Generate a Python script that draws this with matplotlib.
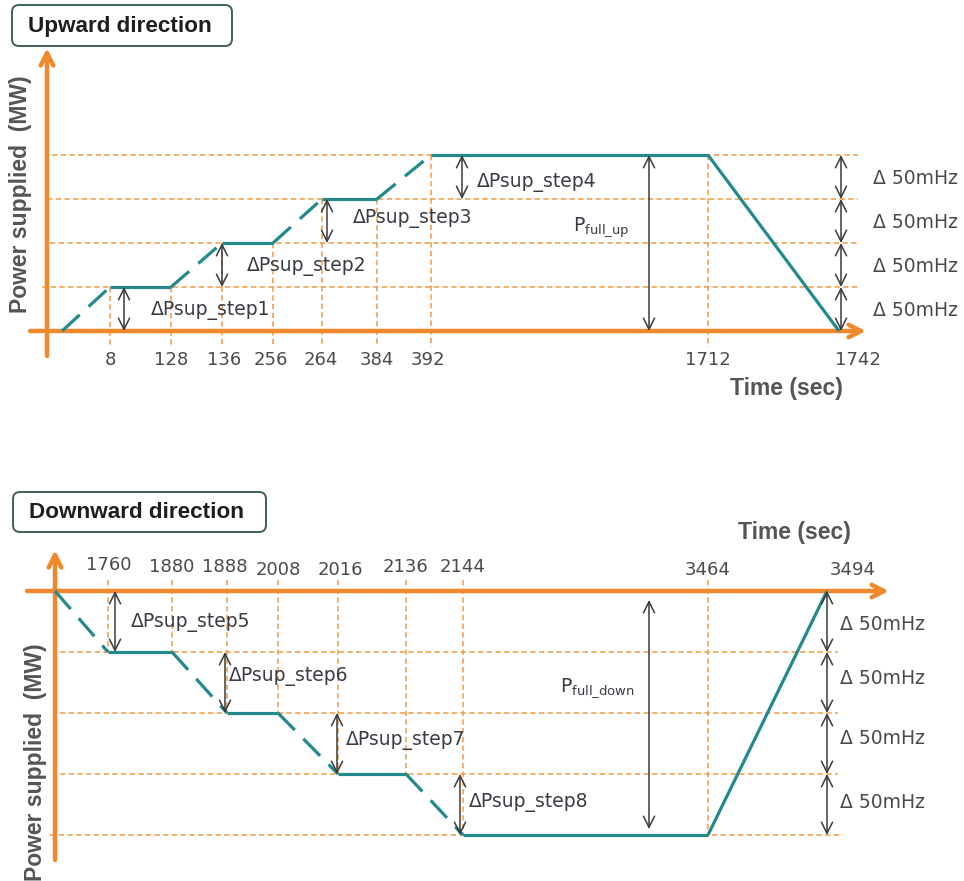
import matplotlib
matplotlib.use("Agg")
import matplotlib.pyplot as plt
from matplotlib.patches import FancyBboxPatch

# ---------------- data ----------------
up_times = [0, 8, 128, 136, 256, 264, 384, 392, 1712, 1742]
up_levels = [0, 1, 1, 2, 2, 3, 3, 4, 4, 0]
down_times = [1742, 1760, 1880, 1888, 2008, 2016, 2136, 2144, 3464, 3494]
down_levels = [0, 1, 1, 2, 2, 3, 3, 4, 4, 0]
up_step_labels = ["ΔPsup_step1", "ΔPsup_step2", "ΔPsup_step3", "ΔPsup_step4"]
down_step_labels = ["ΔPsup_step5", "ΔPsup_step6", "ΔPsup_step7", "ΔPsup_step8"]
band_label = "Δ 50mHz"
n_levels = 4

# ---------------- layout (schematic, not to scale) ----------------
up_xpos = [62, 110, 171, 222, 273, 322, 377, 431, 708, 839]
down_xpos = [55, 108, 172, 227, 278, 338, 406, 463, 708, 827]
UP_Y0, UP_DY = 331, -44
DN_Y0, DN_DY = 591, 61


def ly_up(l):
    return UP_Y0 + UP_DY * l


def ly_dn(l):
    return DN_Y0 + DN_DY * l


ORANGE = "#f0892c"
ORANGE_D = "#f29a45"
TEAL = "#23898c"
TXT = "#3b3b45"
GRAY = "#4a4a4a"
ARROW = "#3a3a3a"
BOLD_GRAY = "#555555"

plt.rcParams["font.family"] = ["DejaVu Sans"]
plt.rcParams["mathtext.fontset"] = "dejavusans"

fig = plt.figure(figsize=(9.64, 8.81), dpi=100)
ax = fig.add_axes([0, 0, 1, 1])
ax.set_xlim(0, 964)
ax.set_ylim(881, 0)
ax.axis("off")

dash_or = (0, (3.5, 2.2))
FS = 13.5
FS_TICK = 13
BOLD_FONT = ["Liberation Sans", "DejaVu Sans"]


def title_box(x0, y0, x1, y1, text):
    box = FancyBboxPatch((x0, y0), x1 - x0, y1 - y0,
                         boxstyle="round,pad=0,rounding_size=7",
                         fc="white", ec="#3f5f5c", lw=1.4, zorder=5)
    ax.add_patch(box)
    ax.text(x0 + 16, (y0 + y1) / 2 + 1, text, fontsize=16.2, fontweight="bold",
            family=BOLD_FONT, color="#1e1e1e", va="center", ha="left", zorder=6)


def axis_arrow(x0, y0, x1, y1):
    ax.annotate("", xy=(x1, y1), xytext=(x0, y0),
                arrowprops=dict(arrowstyle="->,head_length=0.9,head_width=0.45",
                                color=ORANGE, lw=3.2, shrinkA=0, shrinkB=0),
                zorder=4)


def dbl_arrow(x, y0, y1):
    ax.annotate("", xy=(x, y1), xytext=(x, y0),
                arrowprops=dict(arrowstyle="<->,head_length=0.8,head_width=0.4",
                                color=ARROW, lw=1.1, shrinkA=0, shrinkB=0),
                zorder=7)


def profile(xpos, levels, ly):
    for i in range(len(xpos) - 1):
        xs = [xpos[i], xpos[i + 1]]
        ys = [ly(levels[i]), ly(levels[i + 1])]
        ramp = levels[i] != levels[i + 1]
        if ramp and i < len(xpos) - 2:
            ax.plot(xs, ys, color=TEAL, lw=2.3, ls=(0, (7.5, 3.8)),
                    solid_capstyle="butt", dash_capstyle="butt", zorder=6)
        else:
            ax.plot(xs, ys, color=TEAL, lw=2.3, solid_capstyle="butt", zorder=6)


# ================= UPWARD =================
title_box(12, 5, 232, 46, "Upward direction")

up_level_x0 = [40, 42, 50, 47, 52]
for l in range(1, n_levels + 1):
    ax.plot([up_level_x0[l], 858], [ly_up(l), ly_up(l)], color=ORANGE_D, lw=1.1,
            ls=dash_or, zorder=2)

for t, x, l in zip(up_times[1:-1], up_xpos[1:-1], up_levels[1:-1]):
    ax.plot([x, x], [ly_up(l), 347], color=ORANGE_D, lw=1.1, ls=dash_or, zorder=2)

axis_arrow(47, 356, 47, 48)
axis_arrow(30, UP_Y0, 866, UP_Y0)

profile(up_xpos, up_levels, ly_up)

up_label_dx = [0, 0, 2, -2, -1, 0, -3, 0, 19]
for t, x, dx in zip(up_times[1:], up_xpos[1:], up_label_dx):
    ax.text(x + dx, 360, str(t), fontsize=FS_TICK, color=GRAY, ha="center",
            va="center")

up_arrow_x = [124, 222, 327, 462]
up_lab_pos = [(151, 310), (247, 266), (353, 218), (477, 182)]
for k in range(4):
    dbl_arrow(up_arrow_x[k], ly_up(k), ly_up(k + 1))
    ax.text(up_lab_pos[k][0], up_lab_pos[k][1], up_step_labels[k], fontsize=FS,
            color=TXT, ha="left", va="center", zorder=8)

dbl_arrow(649, ly_up(0), ly_up(4))
ax.text(573, 227, r"P$_{\mathrm{full\_up}}$", fontsize=FS, color=TXT,
        ha="left", va="center")

for k in range(4):
    dbl_arrow(841, ly_up(k), ly_up(k + 1))
    ax.text(873, (ly_up(k) + ly_up(k + 1)) / 2 + 2, band_label, fontsize=FS,
            color=GRAY, ha="left", va="center")

ax.text(786, 388, "Time (sec)", fontsize=16.5, fontweight="bold", color=BOLD_GRAY,
        family=BOLD_FONT, ha="center", va="center")
ax.text(21, 194, "Power supplied  (MW)", fontsize=16.5, fontweight="bold",
        family=BOLD_FONT, color=BOLD_GRAY, ha="center", va="center", rotation=90)

# ================= DOWNWARD =================
title_box(13, 492, 266, 532, "Downward direction")

for l in range(1, n_levels + 1):
    x0 = 60 if l < n_levels else 50
    x1 = 838 if l < n_levels else 843
    ax.plot([x0, x1], [ly_dn(l), ly_dn(l)], color=ORANGE_D, lw=1.1, ls=dash_or,
            zorder=2)

for t, x, l in zip(down_times[1:-1], down_xpos[1:-1], down_levels[1:-1]):
    ax.plot([x, x], [580, ly_dn(l)], color=ORANGE_D, lw=1.1, ls=dash_or, zorder=2)

axis_arrow(55, 860, 55, 550)
axis_arrow(27, DN_Y0, 889, DN_Y0)

profile(down_xpos, down_levels, ly_dn)

dn_label_dx = [1, 0, -2, 0, 2, -1, 0, 0, 26]
dn_label_y = [565, 567, 567, 570, 570, 567, 567, 570, 570]
for t, x, dx, yy in zip(down_times[1:], down_xpos[1:], dn_label_dx, dn_label_y):
    ax.text(x + dx, yy, str(t), fontsize=FS_TICK, color=GRAY, ha="center",
            va="center")

dn_arrow_x = [115, 225, 337, 460]
dn_lab_pos = [(131, 622), (229, 677), (346, 740), (469, 803)]
for k in range(4):
    dbl_arrow(dn_arrow_x[k], ly_dn(k), ly_dn(k + 1))
    ax.text(dn_lab_pos[k][0], dn_lab_pos[k][1], down_step_labels[k], fontsize=FS,
            color=TXT, ha="left", va="center", zorder=8)

dbl_arrow(649, 600, ly_dn(4) - 6)
ax.text(560, 688, r"P$_{\mathrm{full\_down}}$", fontsize=FS, color=TXT,
        ha="left", va="center")

dn_band_y = [625, 679, 739, 803]
for k in range(4):
    dbl_arrow(827, ly_dn(k), ly_dn(k + 1))
    ax.text(840, dn_band_y[k], band_label, fontsize=FS, color=GRAY,
            ha="left", va="center")

ax.text(794, 533, "Time (sec)", fontsize=16.5, fontweight="bold", color=BOLD_GRAY,
        family=BOLD_FONT, ha="center", va="center")
ax.text(36, 762, "Power supplied  (MW)", fontsize=16.5, fontweight="bold",
        family=BOLD_FONT, color=BOLD_GRAY, ha="center", va="center", rotation=90)

fig.savefig("out.png", dpi=100)
